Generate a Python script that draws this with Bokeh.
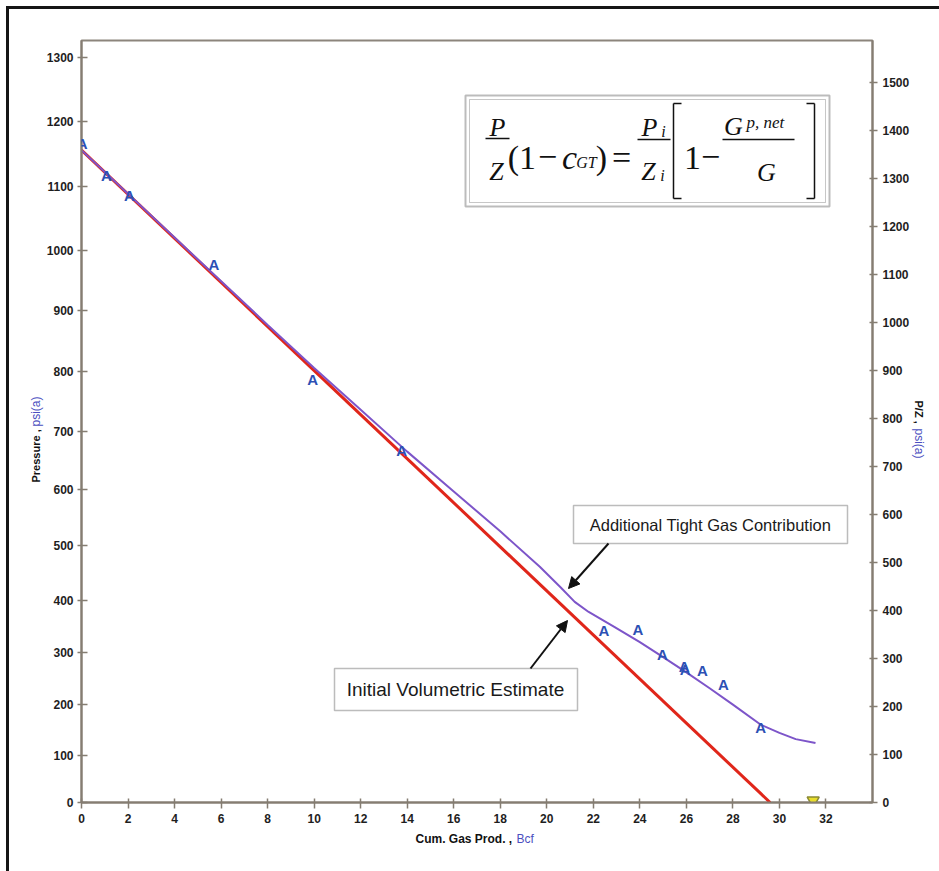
from math import pi
from bokeh.plotting import figure
from bokeh.models import (LinearAxis, FixedTicker, Range1d, Label, LabelSet, BoxAnnotation,
                          Arrow, NormalHead, ColumnDataSource)
from bokeh.core.properties import value
from bokeh.embed import file_html
from bokeh.resources import INLINE

# ---------------- data ----------------
# measured P/Z points ("A" symbols): cumulative gas (Bcf), P/Z (psia)
gp_measured = [0.03, 1.07, 2.06, 5.69, 9.94, 13.76, 22.45, 23.92, 24.97, 25.90, 25.95, 26.69, 27.59, 29.19]
pz_measured = [1372, 1306, 1264, 1120, 882, 733, 358, 361, 309, 284, 278, 276, 245, 156]

# initial volumetric estimate (straight line)
gp_volumetric = [0.0, 29.6]
pz_volumetric = [1359, 0]

# curve including additional tight gas contribution
gp_tight = [0, 4, 8, 10, 12, 14, 16, 18, 19.7, 20.6, 21.2, 21.8, 22.9, 24.0, 25.0, 26.0, 27.0, 28.0, 29.2, 30.0, 30.7, 31.55]
pz_tight = [1359, 1177, 995, 905, 818, 731, 648, 565, 491, 448, 418, 397, 366, 334, 303, 271, 238, 204, 162, 145, 132, 124]

# abandonment marker
gp_abandon = [31.45]
pz_abandon = [4]

# axes
gp_ticks = list(range(0, 33, 2))
pz_ticks = list(range(0, 1501, 100))
pressure_ticks = [0, 100, 200, 300, 400, 500, 600, 700, 800, 900, 1000, 1100, 1200, 1300]
pz_at_pressure_ticks = [0, 97, 204, 312, 420, 535, 652, 772, 897, 1024, 1151, 1283, 1418, 1553]

X0, X1 = 0, 34
Y0, Y1 = 0, 1587.5

# ---------------- layout ----------------
W, H = 939, 871
FL, FR, FT, FB = 81, 872, 40, 802
ML, MR, MT, MB = FL, W - FR, FT, H - FB


def DX(px):
    return X0 + (px - FL) * (X1 - X0) / (FR - FL)


def DY(py):
    return Y0 + (FB - py) * (Y1 - Y0) / (FB - FT)


p = figure(width=W, height=H, x_range=Range1d(X0, X1), y_range=Range1d(Y0, Y1),
           output_backend="svg", toolbar_location=None,
           min_border_left=ML, min_border_right=MR, min_border_top=MT, min_border_bottom=MB)
p.xgrid.visible = False
p.ygrid.visible = False
p.background_fill_color = "white"
p.border_fill_color = None
p.outline_line_color = "#8c857c"
p.outline_line_width = 2
p.styles = {
    "background-color": "white",
    "background-image": "linear-gradient(#151515, #151515), linear-gradient(#151515, #151515)",
    "background-size": "3px 100%, 100% 3px",
    "background-position": "6px 6px, 6px 6px",
    "background-repeat": "no-repeat",
}

AX = "#857d72"


def style(ax, tin, tout, stand):
    ax.axis_line_color = AX
    ax.axis_line_width = 2
    ax.major_tick_line_color = AX
    ax.major_tick_line_width = 1.5
    ax.major_tick_in = tin
    ax.major_tick_out = tout
    ax.minor_tick_line_color = None
    ax.major_label_text_font = "Liberation Sans"
    ax.major_label_text_font_size = "12px"
    ax.major_label_text_font_style = "bold"
    ax.major_label_text_color = "#1e1e1e"
    ax.major_label_standoff = stand


xa = p.xaxis[0]
xa.ticker = FixedTicker(ticks=gp_ticks)
style(xa, 4, 6, 5)

ya = p.yaxis[0]
ya.ticker = FixedTicker(ticks=pz_at_pressure_ticks)
ya.major_label_overrides = {v: str(pr) for v, pr in zip(pz_at_pressure_ticks, pressure_ticks)}
style(ya, 6, 4, 4)

ra = LinearAxis(ticker=FixedTicker(ticks=pz_ticks))
style(ra, 3, 5, 5)
p.add_layout(ra, "right")

# ---------------- data marks ----------------
p.line(gp_volumetric, pz_volumetric, line_color="#e0261a", line_width=3)
p.line(gp_tight, pz_tight, line_color="#7d55c9", line_width=2)
p.scatter(gp_abandon, pz_abandon, marker="inverted_triangle", size=12,
          fill_color="#e9de2c", line_color="#8b8a34", line_width=1.5)

# "A" symbols: a LabelSet in the side panel, so the one on the axis is not clipped
src_measured = ColumnDataSource(dict(x=gp_measured, y=pz_measured, t=["A"] * len(gp_measured)))
p.add_layout(LabelSet(x="x", y="y", text="t", source=src_measured,
                      text_font=value("Liberation Sans"), text_font_style="bold",
                      text_font_size=value("15px"),
                      text_color="#2c50b4", text_align="center", text_baseline="middle"), "left")

# ---------------- text helpers ----------------
SANS = "Liberation Sans"
BLUE = "#4b4fc0"


def lab(px, py, text, color="#111111", size="11px", bold=True, angle=0, align="left",
        baseline="middle", font=SANS, italic=False, place="center"):
    st = "bold" if bold else "normal"
    if italic:
        st = "bold italic" if bold else "italic"
    p.add_layout(Label(x=DX(px), y=DY(py), text=text, text_color=color, text_font=font,
                       text_font_size=size, text_font_style=st, angle=angle,
                       text_align=align, text_baseline=baseline), place)


# axis titles (placed in the side panels so that they are not clipped to the frame)
lab(35, 482, "Pressure ,", angle=pi / 2, place="left")
lab(35, 426, "psi(a)", color=BLUE, size="12px", angle=pi / 2, bold=False, place="left")
lab(918, 400, "P/Z ,", angle=-pi / 2, place="right")
lab(918, 428, "psi(a)", color=BLUE, size="12px", angle=-pi / 2, bold=False, place="right")
lab(415, 838, "Cum. Gas Prod. ,", size="12px", place="below")
lab(516, 838, "Bcf", color=BLUE, size="12px", bold=False, place="below")

# ---------------- formula box ----------------
p.add_layout(BoxAnnotation(left=DX(465), right=DX(829), top=DY(95), bottom=DY(206),
                           fill_color="white", fill_alpha=1, line_color="#222222", line_width=2))
p.add_layout(BoxAnnotation(left=DX(469), right=DX(825), top=DY(99), bottom=DY(202),
                           fill_color="white", fill_alpha=1, line_color="#444444", line_width=1))

SERIF = "Liberation Serif"


def seg(x1, y1, x2, y2, w=1.5):
    p.add_layout(Arrow(end=None, x_start=DX(x1), y_start=DY(y1), x_end=DX(x2), y_end=DY(y2),
                       line_color="#111111", line_width=w))


def ftxt(px, py, text, size, italic=True, align="center"):
    lab(px, py, text, size=size, bold=False, italic=italic, align=align,
        baseline="alphabetic", font=SERIF, color="#111111")


ftxt(497, 127, "P", "26px")
seg(485, 138, 509, 138)
ftxt(496, 171, "Z", "26px")
ftxt(513, 157, "(", "34px", italic=False)
ftxt(527, 157, "1", "34px", italic=False)
ftxt(547, 156, "\u2212", "34px", italic=False)
ftxt(569, 157, "c", "34px")
ftxt(586, 162, "GT", "16px")
ftxt(601, 157, ")", "34px", italic=False)
ftxt(621, 157, "=", "34px", italic=False)
ftxt(649, 127, "P", "26px")
ftxt(663, 131, "i", "16px")
seg(637, 139, 670, 139)
ftxt(648, 171, "Z", "26px")
ftxt(662, 175, "i", "16px")
seg(673, 103, 673, 198)
seg(673, 103, 681, 103)
seg(673, 198, 681, 198)
ftxt(692, 157, "1", "34px", italic=False)
ftxt(710, 156, "\u2212", "34px", italic=False)
ftxt(733, 126, "G", "26px")
ftxt(746, 122, "p, net", "17px", align="left")
seg(722, 139, 794, 139)
ftxt(766, 172, "G", "26px")
seg(814, 103, 814, 198)
seg(806, 103, 814, 103)
seg(806, 198, 814, 198)

# ---------------- callouts ----------------
p.add_layout(BoxAnnotation(left=DX(573), right=DX(847), top=DY(505), bottom=DY(543),
                           fill_color="white", fill_alpha=1, line_color="#222222", line_width=1.5))
lab(710, 524, "Additional Tight Gas Contribution", size="16.5px", bold=False, align="center",
    color="#1a1a1a")
p.add_layout(Arrow(end=NormalHead(size=11, fill_color="#111111", line_color="#111111"),
                   x_start=DX(608), y_start=DY(543), x_end=DX(568), y_end=DY(588),
                   line_color="#111111", line_width=2))

p.add_layout(BoxAnnotation(left=DX(334), right=DX(577), top=DY(668), bottom=DY(710),
                           fill_color="white", fill_alpha=1, line_color="#222222", line_width=1.5))
lab(455, 689, "Initial Volumetric Estimate", size="19px", bold=False, align="center",
    color="#1a1a1a")
p.add_layout(Arrow(end=NormalHead(size=11, fill_color="#111111", line_color="#111111"),
                   x_start=DX(530), y_start=DY(668), x_end=DX(567), y_end=DY(620),
                   line_color="#111111", line_width=2))

open("out.html", "w").write(file_html(p, INLINE))
